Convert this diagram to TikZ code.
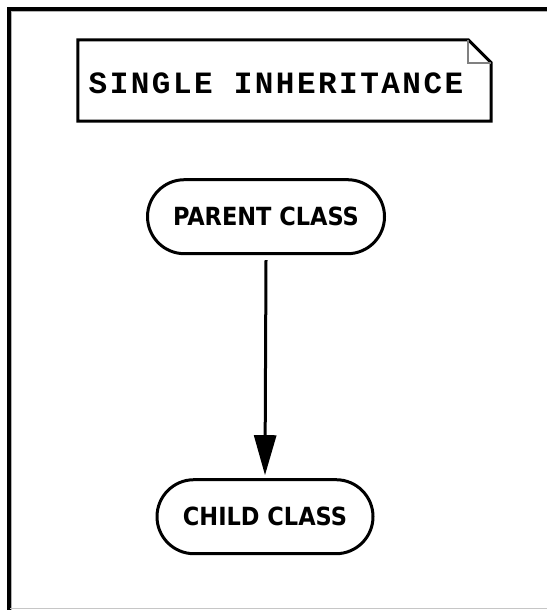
\documentclass[tikz,border=0pt]{standalone}
\usepackage{fontspec}
\usepackage{tikz}
\usetikzlibrary{positioning,shapes.misc,arrows.meta}
\newfontfamily\titlefont[LetterSpace=8]{Liberation Mono}
\newfontfamily\classfont{DejaVu Sans Condensed}
\tikzstyle{notebox}=[rectangle, minimum width=413pt, minimum height=81pt, inner sep=0pt,
        text centered, font=\titlefont\bfseries\fontsize{31}{31}\selectfont]
\tikzstyle{classbox}=[rounded rectangle, draw=black, line width=3pt, fill=white,
        minimum height=74pt, inner sep=0pt, text centered,
        font=\classfont\bfseries\fontsize{25}{25}\selectfont]
\tikzstyle{inherit}=[line width=3pt, -{Triangle[length=40pt, width=22pt]}]

\begin{document}
\begin{tikzpicture}[x=1pt, y=-1pt]
        \useasboundingbox (0,0) rectangle (547,610);
        % frame
        \draw[line width=4pt] (8.7,610) -- (8.7,8.7) -- (547,8.7);
        \draw[gray!60, line width=1pt] (11.5,610) -- (11.5,11.5) -- (547,11.5);
        \draw[gray!45, line width=1.5pt] (10,608.5) -- (547,608.5);

        \node (title) [notebox] at (284.5,80.5)
        {
          \rule{0pt}{27pt}SINGLE INHERITANCE\hspace{17pt}
        };
        \draw[line width=3pt, line join=miter] (title.north west) -- ([xshift=-23pt]title.north east)
          -- ([yshift=-23pt]title.north east) -- (title.south east) -- (title.south west) -- cycle;
        \draw[gray, line width=1.5pt] ([xshift=-23pt]title.north east) |- ([yshift=-23pt]title.north east);

        \node (parent) [classbox, minimum width=237pt, below=57pt of title, xshift=-18.5pt]
        {
          PARENT CLASS
        };
        \node (child) [classbox, minimum width=216pt, below=223pt of parent, xshift=-1pt]
        {
          CHILD CLASS
        };

        \draw[inherit] ([yshift=-5pt]parent.south) -- ([yshift=3pt]child.north);
      \end{tikzpicture}
\end{document}
